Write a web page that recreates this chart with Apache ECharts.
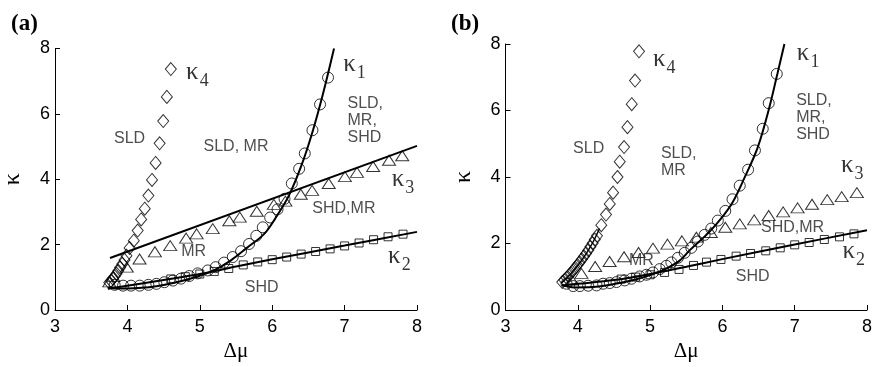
<!DOCTYPE html>
<html><head><meta charset="utf-8">
<script src="https://cdn.jsdelivr.net/npm/echarts@6/dist/echarts.min.js"></script>
<style>html,body{margin:0;padding:0;background:#fff}#c{width:875px;height:367px}</style>
</head><body><div id="c"></div>
<script>
// ---------- axis ranges / ticks ----------
const xTicks = [3, 4, 5, 6, 7, 8];
const yTicks = [0, 2, 4, 6, 8];
const panelTitles = ['(a)', '(b)'];

// ---------- panel (a) ----------
const aK4 = [[4.60,7.37],[4.545,6.52],[4.495,5.78],[4.445,5.10],[4.39,4.50],[4.34,3.98],[4.29,3.50],[4.24,3.10],[4.19,2.77],[4.142,2.43],[4.088,2.12],[4.03,1.90],[3.987,1.66],[3.96,1.53],[3.93,1.41],[3.90,1.30],[3.875,1.20],[3.85,1.11],[3.825,1.03],[3.80,0.96],[3.775,0.89],[3.75,0.84]];
const aK1 = [[3.824,0.77],[3.94,0.745],[4.05,0.745],[4.17,0.745],[4.29,0.77],[4.40,0.80],[4.51,0.85],[4.63,0.90],[4.74,0.96],[4.855,1.04],[4.97,1.12],[5.11,1.21],[5.22,1.31],[5.335,1.45],[5.455,1.62],[5.57,1.80],[5.68,2.02],[5.78,2.27],[5.87,2.53],[5.972,2.83],[6.074,3.08],[6.170,3.40],[6.271,3.87],[6.372,4.32],[6.450,4.79],[6.556,5.50],[6.661,6.29],[6.771,7.11]];
const aK1Line = [[3.73,0.68],[3.85,0.66],[4.0,0.66],[4.2,0.68],[4.4,0.73],[4.6,0.81],[4.8,0.92],[5.0,1.05],[5.2,1.22],[5.43,1.52],[5.65,1.9],[5.89,2.33],[6.05,2.83],[6.23,3.5],[6.4,4.4],[6.55,5.4],[6.7,6.6],[6.854,8.0]];
const aK3 = [[3.75,0.86],[3.806,1.02],[3.992,1.31],[4.168,1.56],[4.380,1.78],[4.591,1.97],[4.811,2.20],[4.956,2.33],[5.179,2.49],[5.408,2.73],[5.552,2.84],[5.787,3.02],[6.023,3.23],[6.182,3.33],[6.395,3.54],[6.551,3.66],[6.781,3.87],[7.004,4.08],[7.171,4.21],[7.394,4.39],[7.614,4.58],[7.796,4.72]];
const aK3Line = [[3.76,1.59],[8.0,5.02]];
const aK2 = [[4.6,0.95],[4.8,1.02],[5.0,1.10],[5.2,1.18],[5.4,1.27],[5.6,1.38],[5.8,1.47],[6.0,1.54],[6.2,1.62],[6.4,1.71],[6.6,1.79],[6.8,1.87],[7.0,1.96],[7.2,2.05],[7.4,2.15],[7.6,2.24],[7.807,2.32]];
const aK2Line = [[3.73,0.65],[4.5,0.92],[5.0,1.1],[5.52,1.34],[6.0,1.55],[7.0,1.97],[8.0,2.39]];
const aRegions = [[4.03,5.25,'SLD'],[5.50,5.0,'SLD, MR'],[6.99,3.09,'SHD,MR'],[4.915,1.79,'MR'],[5.855,0.70,'SHD']];
const aRegionsLeft = [[7.04,5.79,'SLD,\nMR,\nSHD']];
const aKappa = [[4.81,7.27,'4'],[6.98,7.51,'1'],[7.65,3.99,'3'],[7.60,1.63,'2']];

// ---------- panel (b) ----------
const bK4 = [[4.847,7.78],[4.792,6.90],[4.746,6.19],[4.687,5.50],[4.640,4.90],[4.580,4.46],[4.549,4.00],[4.488,3.53],[4.442,3.19],[4.390,2.87],[4.325,2.55],[4.265,2.23],[4.235,2.12],[4.205,2.01],[4.175,1.90],[4.145,1.80],[4.115,1.70],[4.085,1.61],[4.055,1.52],[4.025,1.43],[3.995,1.35],[3.965,1.27],[3.935,1.19],[3.905,1.11],[3.875,1.04],[3.845,0.97],[3.815,0.90],[3.785,0.84]];
const bK4Line = [[3.77,0.80],[3.9,1.08],[4.05,1.48],[4.2,2.0],[4.3,2.45]];
const bK1 = [[3.845,0.79],[3.936,0.72],[4.028,0.72],[4.143,0.73],[4.259,0.74],[4.350,0.79],[4.442,0.81],[4.535,0.84],[4.649,0.89],[4.742,0.94],[4.856,1.01],[4.949,1.06],[5.040,1.13],[5.133,1.23],[5.225,1.33],[5.294,1.43],[5.385,1.57],[5.478,1.72],[5.570,1.87],[5.661,2.06],[5.754,2.26],[5.846,2.45],[5.937,2.69],[6.04,2.98],[6.14,3.33],[6.24,3.74],[6.355,4.22],[6.45,4.80],[6.558,5.45],[6.641,6.22],[6.752,7.10]];
const bK1Line = [[3.78,0.75],[3.95,0.68],[4.2,0.69],[4.5,0.78],[4.8,0.92],[5.0,1.05],[5.2,1.22],[5.4,1.47],[5.55,1.8],[5.82,2.35],[6.0,2.8],[6.14,3.23],[6.3,3.95],[6.49,4.9],[6.65,6.1],[6.76,7.1],[6.858,8.0]];
const bK3 = [[3.92,0.90],[4.05,1.10],[4.24,1.31],[4.44,1.46],[4.64,1.60],[4.84,1.73],[5.04,1.86],[5.24,1.98],[5.44,2.08],[5.64,2.19],[5.84,2.33],[6.04,2.49],[6.24,2.59],[6.44,2.71],[6.64,2.84],[6.84,2.95],[7.04,3.07],[7.24,3.18],[7.45,3.32],[7.65,3.41],[7.86,3.53]];
const bK2 = [[4.6,0.93],[4.8,0.99],[5.0,1.06],[5.2,1.13],[5.4,1.22],[5.6,1.34],[5.78,1.44],[5.98,1.52],[6.19,1.62],[6.39,1.70],[6.6,1.78],[6.8,1.87],[7.0,1.96],[7.2,2.03],[7.41,2.12],[7.62,2.20],[7.82,2.29]];
const bK2Line = [[3.78,0.74],[4.5,0.9],[5.0,1.08],[5.5,1.3],[6.0,1.53],[7.0,1.97],[8.0,2.40]];
const bRegions = [[4.15,4.85,'SLD'],[6.97,2.49,'SHD,MR'],[4.88,1.50,'MR'],[6.42,0.99,'SHD']];
const bRegionsLeft = [[5.15,4.44,'SLD,\nMR'],[7.02,5.78,'SLD,\nMR,\nSHD']];
const bKappa = [[5.04,7.54,'4'],[7.03,7.73,'1'],[7.64,4.36,'3'],[7.66,1.77,'2']];

const SANS = '"Liberation Sans", Arial, Helvetica, sans-serif';
const SERIF = '"Liberation Serif", "Times New Roman", serif';
const INK = '#000';

function xAx(gi) {
  return {
    type: 'value', gridIndex: gi, min: xTicks[0], max: xTicks[xTicks.length - 1], interval: xTicks[1] - xTicks[0],
    name: 'Δμ', nameLocation: 'middle', nameGap: 31,
    nameTextStyle: { color: INK, fontSize: 21, fontFamily: SERIF },
    axisLine: { show: true, onZero: false, lineStyle: { color: '#000', width: 1 } },
    axisTick: { show: true, inside: true, length: 5, lineStyle: { color: '#000' } },
    axisLabel: { color: INK, fontSize: 18, fontFamily: SANS, margin: 8 },
    splitLine: { show: false }
  };
}
function yAx(gi) {
  return {
    type: 'value', gridIndex: gi, min: yTicks[0], max: yTicks[yTicks.length - 1], interval: yTicks[1] - yTicks[0],
    name: 'κ', nameLocation: 'middle', nameGap: 30, nameRotate: 90,
    nameTextStyle: { color: INK, fontSize: 24, fontFamily: SERIF },
    axisLine: { show: true, onZero: false, lineStyle: { color: '#000', width: 1 } },
    axisTick: { show: true, inside: true, length: 5, lineStyle: { color: '#000' } },
    axisLabel: { color: INK, fontSize: 18, fontFamily: SANS, margin: 5 },
    splitLine: { show: false }
  };
}
function pts(gi, data, symbol, size) {
  return {
    type: 'scatter', xAxisIndex: gi, yAxisIndex: gi, data: data, symbol: symbol, symbolSize: size,
    itemStyle: { color: 'rgba(0,0,0,0)', borderColor: '#000', borderWidth: 1 }, silent: true, z: 3
  };
}
function curve(gi, data, w) {
  return {
    type: 'line', xAxisIndex: gi, yAxisIndex: gi, data: data, showSymbol: false, smooth: 0.35,
    lineStyle: { color: '#000', width: w || 2 }, silent: true, z: 2
  };
}
function texts(gi, data, pos) {
  return {
    type: 'scatter', xAxisIndex: gi, yAxisIndex: gi, symbolSize: 0, silent: true, z: 5,
    data: data.map(d => ({ value: [d[0], d[1]], name: d[2] })),
    label: {
      show: true, position: pos, distance: 0, formatter: p => p.name,
      color: '#222', fontSize: 16, fontFamily: SANS, lineHeight: 17, align: pos === 'right' ? 'left' : 'center'
    }
  };
}
function kappas(gi, data) {
  return {
    type: 'scatter', xAxisIndex: gi, yAxisIndex: gi, symbolSize: 0, silent: true, z: 5,
    data: data.map(d => ({ value: [d[0], d[1]], name: d[2] })),
    label: {
      show: true, position: 'right', distance: 0, formatter: p => '{k|κ}{s|' + p.name + '}',
      rich: {
        k: { fontSize: 25, fontFamily: SERIF, color: INK },
        s: { fontSize: 18, fontFamily: SERIF, color: INK, padding: [18, 0, 0, 1] }
      }
    }
  };
}

const option = {
  animation: false,
  backgroundColor: '#fff',
  title: [
    { text: panelTitles[0], left: 6, top: 8, textStyle: { fontFamily: SERIF, fontWeight: 'bold', fontSize: 23, color: INK } },
    { text: panelTitles[1], left: 446, top: 8, textStyle: { fontFamily: SERIF, fontWeight: 'bold', fontSize: 23, color: INK } }
  ],
  grid: [
    { left: 53.5, top: 48.5, width: 363.5, height: 268.2 },
    { left: 505.5, top: 44, width: 362.2, height: 273 }
  ],
  xAxis: [xAx(0), xAx(1)],
  yAxis: [yAx(0), yAx(1)],
  series: [
    curve(0, aK1Line), curve(0, aK3Line), curve(0, aK2Line),
    pts(0, aK4, 'diamond', [11, 13]), pts(0, aK1, 'circle', 11), pts(0, aK3, 'triangle', [13, 10]), pts(0, aK2, 'rect', 8),
    texts(0, aRegions, 'inside'), texts(0, aRegionsLeft, 'right'), kappas(0, aKappa),
    curve(1, bK1Line), curve(1, bK2Line), curve(1, bK4Line, 1.5),
    pts(1, bK4, 'diamond', [11, 13]), pts(1, bK1, 'circle', 11), pts(1, bK3, 'triangle', [13, 10]), pts(1, bK2, 'rect', 8),
    texts(1, bRegions, 'inside'), texts(1, bRegionsLeft, 'right'), kappas(1, bKappa)
  ]
};
const chart = echarts.init(document.getElementById('c'), null, { renderer: 'canvas' });
chart.setOption(option);
</script></body></html>
